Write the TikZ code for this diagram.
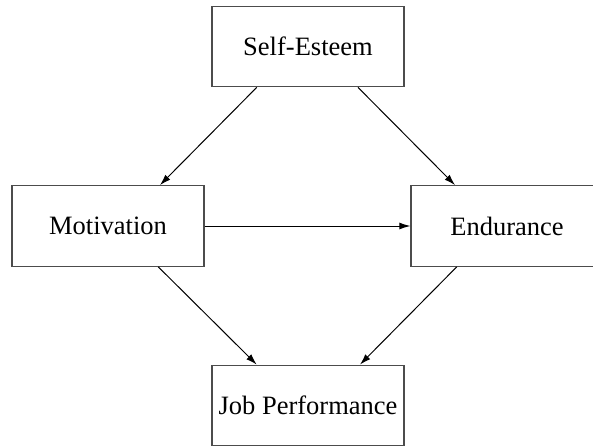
\documentclass[tikz,border=0pt]{standalone}
\usepackage{fontspec}
\setmainfont{Liberation Serif}
\usetikzlibrary{arrows.meta}
\begin{document}
\begin{tikzpicture}[x=1pt,y=-1pt,
  box/.style={draw=black!70,line width=1.3pt,minimum width=192pt,minimum height=80.5pt,inner sep=0pt,font=\fontsize{26.5}{30}\selectfont},
  arr/.style={draw=black,line width=1pt,-{Latex[length=11pt,width=7pt]}}]
\useasboundingbox (0,0) rectangle (593,446);
\clip (0,0) rectangle (593,446);
\fill[white] (0,0) rectangle (593,446);
\node[box] (se) at (308,46.5) {Self-Esteem};
\node[box] (mot) at (108,226) {Motivation};
\node[box] (end) at (507,226) {Endurance};
\node[box] (jp) at (308,405.5) {Job Performance};
\draw[arr] ([xshift=-51.3pt]se.south) -- ([xshift=52pt]mot.north);
\draw[arr] ([xshift=50pt]se.south) -- ([xshift=-52pt]end.north);
\draw[arr] (mot.east) -- (end.west);
\draw[arr] ([xshift=50.3pt]mot.south) -- ([xshift=-51.3pt]jp.north);
\draw[arr] ([xshift=-50.3pt]end.south) -- ([xshift=52pt]jp.north);
\end{tikzpicture}
\end{document}
